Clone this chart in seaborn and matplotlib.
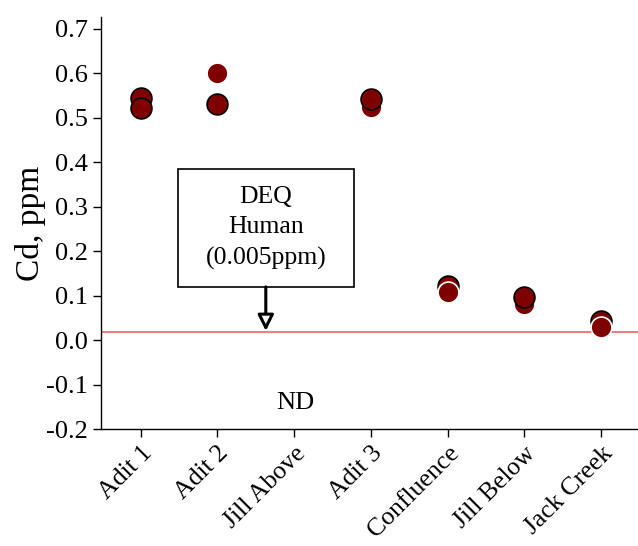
import numpy as np
import pandas as pd
import matplotlib
matplotlib.use("Agg")
import matplotlib.pyplot as plt
from matplotlib.patches import Rectangle
import seaborn as sns

sns.set_style("ticks")
plt.rcParams['font.family'] = ['Liberation Serif', 'DejaVu Serif']
plt.rcParams['text.color'] = 'black'
plt.rcParams['axes.labelcolor'] = 'black'
plt.rcParams['xtick.color'] = 'black'
plt.rcParams['ytick.color'] = 'black'

# Data
sites = ['Adit 1', 'Adit 2', 'Jill Above', 'Adit 3', 'Confluence', 'Jill Below', 'Jack Creek']
cd_back = [0.545, 0.532, np.nan, np.nan, 0.121, np.nan, 0.043]      # black edge, drawn first
cd_mid = [np.nan, 0.602, np.nan, 0.524, 0.109, 0.082, 0.029]        # white edge
cd_front = [0.522, np.nan, np.nan, 0.543, np.nan, 0.098, np.nan]    # black edge, on top
deq_limit = 0.018
ylim = (-0.2, 0.727)
yticks = [-0.2, -0.1, 0.0, 0.1, 0.2, 0.3, 0.4, 0.5, 0.6, 0.7]

fig = plt.figure(figsize=(6.38, 5.46), dpi=100)
ax = fig.add_axes([0.158, 0.214, 0.842, 0.755])

marker_color = '#7f0000'
for vals, edge in [(cd_back, 'black'), (cd_mid, 'white'), (cd_front, 'black')]:
    df = pd.DataFrame({'site': sites, 'cd': vals})
    sns.stripplot(data=df, x='site', y='cd', order=sites, jitter=False,
                  color=marker_color, edgecolor=edge, linewidth=1.2, size=15, ax=ax)

ax.axhline(deq_limit, color='#f07070', linewidth=1.3, zorder=1)

# DEQ note box with arrow down to the limit line
box_x, box_w, box_y0, box_y1 = 1.63, 2.29, 0.120, 0.384
ax.add_patch(Rectangle((box_x - box_w / 2, box_y0), box_w, box_y1 - box_y0,
                       fc='white', ec='black', lw=1.2, zorder=3))
ax.text(box_x, (box_y0 + box_y1) / 2, 'DEQ\nHuman\n(0.005ppm)', ha='center', va='center',
        fontsize=18.5, linespacing=1.5, zorder=4)
ax.annotate('', xy=(box_x, deq_limit + 0.003), xytext=(box_x, box_y0),
            arrowprops=dict(arrowstyle='-|>', fc='white', ec='black', lw=2.2,
                            mutation_scale=24, shrinkA=0, shrinkB=0), zorder=4)
ax.text(2.02, -0.142, 'ND', ha='center', va='center', fontsize=19)

ax.set_xlim(-0.52, 6.48)
ax.set_ylim(*ylim)
ax.set_yticks(yticks)
ax.set_yticklabels([f'{v:.1f}' for v in yticks], fontsize=19)
ax.set_xticks(range(len(sites)))
ax.set_xticklabels(sites, rotation=45, ha='right', rotation_mode='anchor', fontsize=18.5)
ax.set_xlabel('')
ax.set_ylabel('Cd, ppm', fontsize=24, labelpad=0)
ax.tick_params(axis='both', length=6, width=1, color='black', direction='out')
sns.despine(ax=ax)
for s in ['left', 'bottom']:
    ax.spines[s].set_color('black')
    ax.spines[s].set_linewidth(1)

fig.savefig('out.png', dpi=100)
